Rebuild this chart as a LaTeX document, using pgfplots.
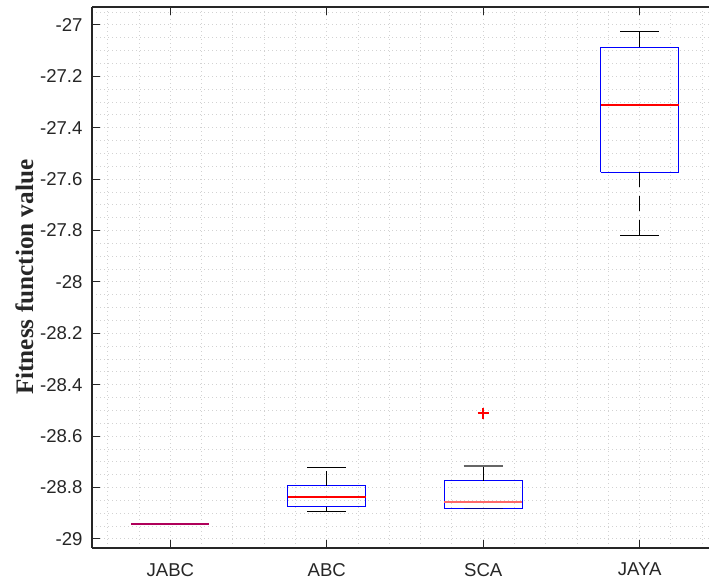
\documentclass[border=0pt]{standalone}
\usepackage{pgfplots}
\pgfplotsset{compat=1.18}
\usepackage{fontspec}
\setmainfont{Liberation Sans}
\newfontfamily\labelfont{Liberation Serif}
\definecolor{axgray}{RGB}{38,38,38}
\definecolor{gridgray}{RGB}{210,210,210}
\definecolor{boxblue}{RGB}{0,0,255}
\definecolor{medianred}{RGB}{255,0,0}
\definecolor{jabccol}{RGB}{175,0,90}
\definecolor{scared}{RGB}{255,105,105}
\begin{document}
\begin{tikzpicture}
\begin{axis}[
  name=ax,
  scale only axis,
  width=308.45pt, height=270.5pt,
  xmin=0.5, xmax=4.443,
  ymin=-29.034, ymax=-26.929,
  axis x line*=box, axis y line*=left,
  axis line style={axgray, line width=0.85pt},
  xtick={1,2,3,4}, xticklabels={JABC,ABC,SCA,JAYA},
  ytick={-29,-28.8,-28.6,-28.4,-28.2,-28,-27.8,-27.6,-27.4,-27.2,-27},
  yticklabels={-29,-28.8,-28.6,-28.4,-28.2,-28,-27.8,-27.6,-27.4,-27.2,-27},
  minor xtick={0.6,0.8,1.2,1.4,1.6,1.8,2.2,2.4,2.6,2.8,3.2,3.4,3.6,3.8,4.2,4.4},
  minor ytick={-29,-28.95,...,-26.94},
  grid=both,
  major grid style={gridgray, line width=0.5pt, dash pattern=on 0.5pt off 1.5pt},
  minor grid style={gridgray, line width=0.5pt, dash pattern=on 0.5pt off 1.5pt},
  tick align=inside,
  major tick length=4pt,
  minor tick length=0pt,
  tick style={axgray, line width=0.5pt},
  ticklabel style={font=\fontsize{9.3}{11}\selectfont, text=axgray},
  yticklabel style={anchor=east, inner sep=0pt, xshift=-4.6pt},
  xticklabel style={anchor=north, inner sep=0pt, yshift=-7.5pt},
  ylabel={Fitness function value},
  every axis y label/.style={at={(axis description cs:-0.0957,0.5)}, rotate=90, anchor=base,
     font=\labelfont\bfseries\fontsize{12.6}{14}\selectfont, text=axgray},
]
% JABC (collapsed box)
\addplot[color=jabccol, line width=1pt] coordinates {(0.75,-28.942) (1.25,-28.942)};

% ABC
\addplot[color=boxblue, line width=0.5pt] coordinates {(1.75,-28.874) (2.25,-28.874) (2.25,-28.793) (1.75,-28.793) (1.75,-28.874)};
\addplot[color=medianred, line width=0.8pt] coordinates {(1.75,-28.837) (2.25,-28.837)};
\addplot[color=black, line width=0.5pt, dash pattern=on 7.5pt off 4.5pt] coordinates {(2,-28.793) (2,-28.721)};
\addplot[color=black, line width=0.5pt] coordinates {(2,-28.874) (2,-28.892)};
\addplot[color=black, line width=0.5pt] coordinates {(1.875,-28.721) (2.125,-28.721)};
\addplot[color=black, line width=0.5pt] coordinates {(1.875,-28.892) (2.125,-28.892)};

% SCA
\addplot[color=boxblue, line width=0.5pt] coordinates {(2.75,-28.881) (3.25,-28.881) (3.25,-28.774) (2.75,-28.774) (2.75,-28.881)};
\addplot[color=scared, line width=1pt] coordinates {(2.75,-28.856) (3.25,-28.856)};
\addplot[color=black, line width=0.5pt] coordinates {(3,-28.774) (3,-28.716)};
\addplot[color=black!60, line width=0.8pt] coordinates {(2.875,-28.716) (3.125,-28.716)};
\addplot[color=blue!60!black, line width=0.6pt] coordinates {(2.875,-28.883) (3.125,-28.883)};
\addplot[only marks, mark=+, mark size=2.8pt, color=medianred, mark options={color=medianred, line width=0.8pt}] coordinates {(3,-28.511)};

% JAYA
\addplot[color=boxblue, line width=0.5pt] coordinates {(3.75,-27.573) (4.25,-27.573) (4.25,-27.086) (3.75,-27.086) (3.75,-27.573)};
\addplot[color=medianred, line width=0.8pt] coordinates {(3.75,-27.312) (4.25,-27.312)};
\addplot[color=black, line width=0.5pt, dash pattern=on 7.5pt off 4.5pt] coordinates {(4,-27.573) (4,-27.818)};
\addplot[color=black, line width=0.5pt] coordinates {(4,-27.086) (4,-27.025)};
\addplot[color=black, line width=0.5pt] coordinates {(3.875,-27.818) (4.125,-27.818)};
\addplot[color=black, line width=0.5pt] coordinates {(3.875,-27.025) (4.125,-27.025)};
\end{axis}
\pgfresetboundingbox
\path[use as bounding box] ([xshift=-46.05pt,yshift=-19.15pt]ax.south west) rectangle ([yshift=3.35pt]ax.north east);
\end{tikzpicture}
\end{document}
